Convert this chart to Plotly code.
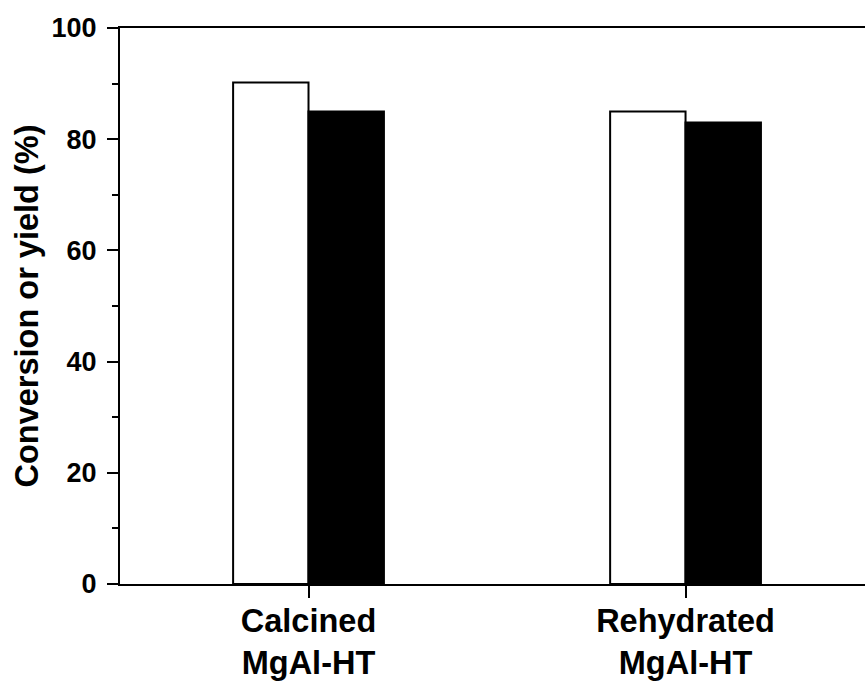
import plotly.graph_objects as go

catalysts = ["Calcined<br>MgAl-HT", "Rehydrated<br>MgAl-HT"]
conversion = [90.2, 85.0]
yield_pct = [85.0, 83.0]

y_ticks = [0, 20, 40, 60, 80, 100]

FONT = "Liberation Sans, Arial, sans-serif"

fig = go.Figure()
fig.add_trace(go.Bar(
    x=[0, 1], y=conversion, name="Conversion",
    marker=dict(color="white", line=dict(color="black", width=2)),
))
fig.add_trace(go.Bar(
    x=[0, 1], y=yield_pct, name="Yield",
    marker=dict(color="black", line=dict(color="black", width=2)),
))

fig.update_layout(
    width=865, height=684,
    margin=dict(l=120, r=0, t=28, b=100),
    paper_bgcolor="white", plot_bgcolor="white",
    barmode="group", bargap=0.6, bargroupgap=0,
    showlegend=False,
    font=dict(family=FONT, color="black"),
)
fig.update_xaxes(
    range=[-0.5, 1.476], automargin=False,
    tickmode="array", tickvals=[0, 1], ticktext=catalysts,
    ticks="outside", ticklen=12, tickwidth=2, tickcolor="black",
    showline=True, linecolor="black", linewidth=2, mirror=True,
    showgrid=False, zeroline=False,
    ticklabelstandoff=-5,
    tickfont=dict(size=32.5, family=FONT, color="black", weight="bold"),
)
fig.update_yaxes(
    range=[0, 100], automargin=False,
    tickmode="array", tickvals=y_ticks, ticktext=[str(v) for v in y_ticks],
    ticks="outside", ticklen=11, tickwidth=2, tickcolor="black",
    minor=dict(ticks="outside", ticklen=6, tickwidth=2, tickcolor="black", dtick=10, tick0=0),
    showline=True, linecolor="black", linewidth=2, mirror=False,
    showgrid=False, zeroline=False,
    ticklabelstandoff=5,
    tickfont=dict(size=27, family=FONT, color="black", weight="bold"),
    title=dict(text="Conversion or yield (%)", standoff=3,
               font=dict(size=32.5, family=FONT, color="black", weight="bold")),
)

fig.write_html("out.html")
